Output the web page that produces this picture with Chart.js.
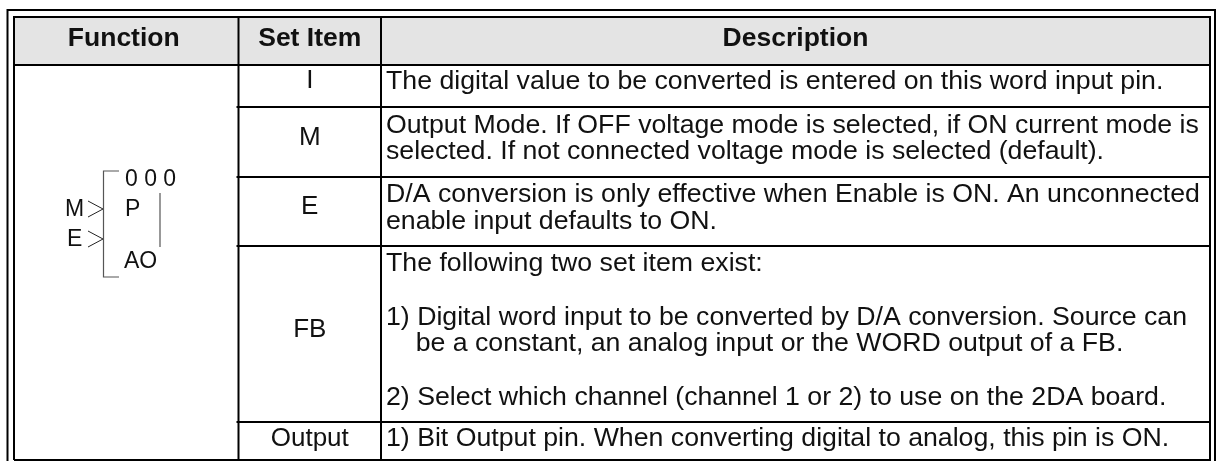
<!DOCTYPE html>
<html>
<head>
<meta charset="utf-8">
<script src="https://cdn.jsdelivr.net/npm/chart.js@4"></script>
<style>
  html, body { margin: 0; padding: 0; background: #fff; overflow: hidden; }
  #wrap { width: 1218px; height: 461px; }
</style>
</head>
<body>
<div id="wrap"><canvas id="chart"></canvas></div>
<script>
// the picture is a table, so the "data" is its text plus column widths / row heights
const headers = ["Function", "Set Item", "Description"]
const setItems = ["I", "M", "E", "FB", "Output"]
const descriptions = [
  ["The digital value to be converted is entered on this word input pin."],
  ["Output Mode. If OFF voltage mode is selected, if ON current mode is", "selected. If not connected voltage mode is selected (default)."],
  ["D/A conversion is only effective when Enable is ON. An unconnected", "enable input defaults to ON."],
  ["The following two set item exist:", "", "1) Digital word input to be converted by D/A conversion. Source can", "    be a constant, an analog input or the WORD output of a FB.", "", "2) Select which channel (channel 1 or 2) to use on the 2DA board."],
  ["1) Bit Output pin. When converting digital to analog, this pin is ON."]
]
const columnWidths = [224.5, 142.5, 829]
const rowHeights = [48, 42, 70, 69, 176, 38]
const tableLeft = 14
const tableTop = 17

// text doesn't sit dead centre in the cells of the original
const setItemShift = [-5, -4.5, -4.5, -4.5, -2]
const descriptionShift = [-4.5, -3.5, -3.5, -3.5, -2]

const columnEdges = columnWidths.reduce((a, w) => [...a, a[a.length - 1] + w], [tableLeft])
const rowEdges = rowHeights.reduce((a, h) => [...a, a[a.length - 1] + h], [tableTop])
const right = columnEdges[3]
const bottom = rowEdges[6]

function rule(points, color = "#000", width = 2) {
  return {
    type: "line",
    data: points.map(([x, y]) => ({ x, y })),
    borderColor: color,
    borderWidth: width,
    pointRadius: 0,
    fill: false,
    tension: 0
  }
}

const datasets = [
  // grey header band
  {
    type: "line",
    data: [[tableLeft, tableTop], [right, tableTop], [right, rowEdges[1]], [tableLeft, rowEdges[1]]].map(([x, y]) => ({ x, y })),
    backgroundColor: "#e4e4e4",
    borderWidth: 0,
    pointRadius: 0,
    fill: "shape",
    order: 5
  },
  // double frame
  rule([[7.5, 470], [7.5, 10], [1215, 10], [1215, 470]]),
  rule([[tableLeft, bottom], [tableLeft, tableTop], [right, tableTop], [right, bottom], [tableLeft, bottom]]),
  // header rule and column rules
  rule([[tableLeft, rowEdges[1]], [right, rowEdges[1]]]),
  rule([[columnEdges[1], tableTop], [columnEdges[1], bottom]]),
  rule([[columnEdges[2], tableTop], [columnEdges[2], bottom]]),
  // the function cell spans all rows, so row rules start at column 2
  ...[2, 3, 4, 5].map(i => rule([[columnEdges[1] - 2, rowEdges[i]], [right, rowEdges[i]]])),
  // function block symbol
  rule([[119, 171], [103.5, 171], [103.5, 277], [119, 277]], "#555", 1.2),
  rule([[160, 193], [160, 247]], "#555", 1.2),
  rule([[88, 201], [103, 209], [88, 217]], "#222", 1),
  rule([[88, 231], [103, 239], [88, 247]], "#222", 1)
]

const blockLabels = [
  { text: "0 0 0", x: 125, y: 180 },
  { text: "P", x: 125, y: 210 },
  { text: "AO", x: 124, y: 262 },
  { text: "M", x: 65, y: 210 },
  { text: "E", x: 67, y: 240 }
]

const tableText = {
  id: "tableText",
  afterDatasetsDraw(chart) {
    const { ctx, scales: { x, y } } = chart
    ctx.save()
    ctx.textBaseline = "middle"
    ctx.fillStyle = "#111"

    ctx.font = 'bold 26.5px "Liberation Sans"'
    ctx.textAlign = "center"
    headers.forEach((h, i) => {
      const nudge = i === 0 ? -2.5 : 0
      ctx.fillText(h, x.getPixelForValue((columnEdges[i] + columnEdges[i + 1]) / 2 + nudge), y.getPixelForValue(38.5))
    })

    ctx.font = '26px "Liberation Sans"'
    setItems.forEach((s, i) => {
      ctx.fillText(s, x.getPixelForValue((columnEdges[1] + columnEdges[2]) / 2), y.getPixelForValue((rowEdges[i + 1] + rowEdges[i + 2]) / 2 + setItemShift[i]))
    })

    ctx.font = '26.7px "Liberation Sans"'
    ctx.textAlign = "left"
    const lineHeight = 26.7
    descriptions.forEach((lines, i) => {
      const mid = (rowEdges[i + 1] + rowEdges[i + 2]) / 2 + descriptionShift[i]
      lines.forEach((line, j) => {
        ctx.fillText(line, x.getPixelForValue(columnEdges[2] + 5), y.getPixelForValue(mid + (j - (lines.length - 1) / 2) * lineHeight))
      })
    })

    ctx.font = '23px "Liberation Sans"'
    blockLabels.forEach(l => {
      ctx.fillText(l.text, x.getPixelForValue(l.x), y.getPixelForValue(l.y))
    })
    ctx.restore()
  }
}

new Chart(document.getElementById("chart"), {
  type: "scatter",
  data: { datasets },
  plugins: [tableText],
  options: {
    responsive: true,
    maintainAspectRatio: false,
    animation: false,
    layout: { padding: 0 },
    plugins: { legend: { display: false }, tooltip: { enabled: false } },
    showLine: true,
    scales: {
      x: { type: "linear", min: 0, max: 1218, display: false },
      y: { type: "linear", min: 0, max: 461, reverse: true, display: false }
    }
  }
})
</script>
</body>
</html>
